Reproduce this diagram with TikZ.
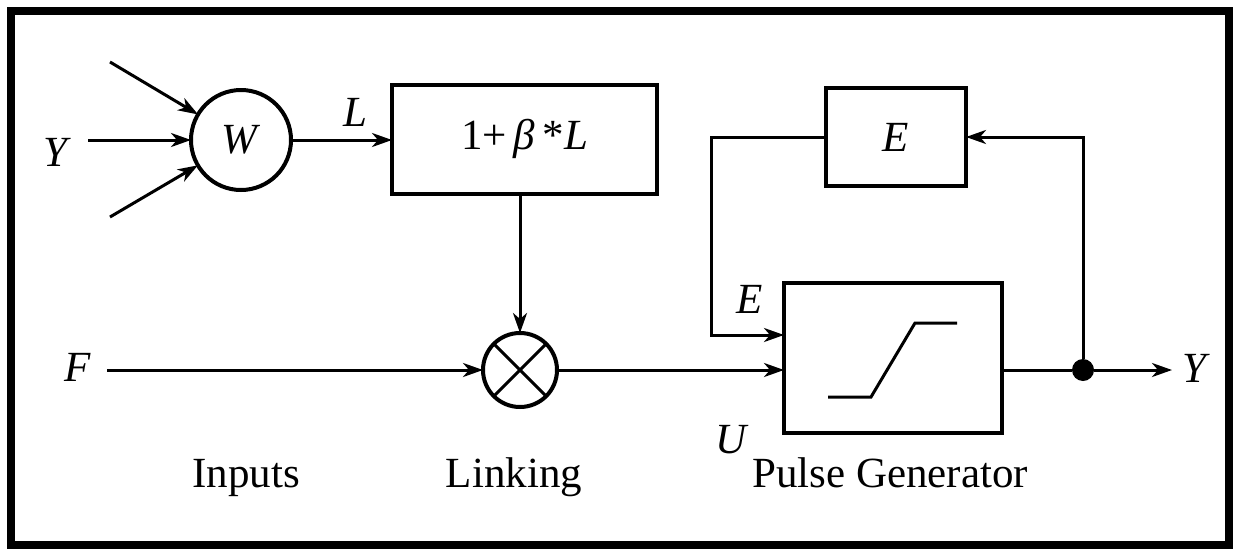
\documentclass[tikz,border=0pt]{standalone}
\usepackage{fontspec}
\setmainfont{Liberation Serif}
\usetikzlibrary{arrows.meta}

\begin{document}
\begin{tikzpicture}[x=1pt, y=-1pt,
  every node/.style={inner sep=0pt, outer sep=0pt, font=\fontsize{43}{50}\selectfont},
  blk/.style={draw, rectangle, line width=4pt},
  sig/.style={line width=3pt, -{Stealth[length=20pt, width=14pt, inset=6pt]}},
  wire/.style={line width=3pt}]
  \useasboundingbox (0,0) rectangle (1234,552);
  \draw[line width=8pt] (11,11) rectangle (1229,545);
  \node[circle, draw, line width=4pt, minimum size=100pt] (w) at (241,140) {\textit{W}};
  \node[blk, minimum width=265pt, minimum height=109pt] (b) at (524.5,139) {1+\,\textit{β}\,*\textit{L}};
  \node[circle, draw, line width=4pt, minimum size=74pt] (m) at (520,370) {};
  \node[blk, minimum width=140pt, minimum height=98pt] (e) at (896,137) {\textit{E}};
  \node[blk, minimum width=218pt, minimum height=150pt] (p) at (893,358) {};
  \node[circle, fill, minimum size=22pt] (d) at (1083,370) {};
  \coordinate (u1) at (110,62);
  \coordinate (u2) at (110,217);
  \coordinate (y0) at (88,140);
  \coordinate (f0) at (107,370);
  \coordinate (k) at (711,335);
  \coordinate (yo) at (1172,370);
  \node (ly) at (57,152) {\textit{Y}};
  \node (ll) at (355,112) {\textit{L}};
  \node (lf) at (78,367) {\textit{F}};
  \node (le) at (750,299) {\textit{E}};
  \node (lu) at (732,440) {\textit{U}};
  \node (lyo) at (1196,368) {\textit{Y}};
  \node[anchor=base] (in) at (246,487) {Inputs};
  \node[anchor=base] (li) at (514,487) {Linking};
  \node[anchor=base] (pg) at (890,487) {Pulse Generator};
  \draw[line width=3pt] (m.45) -- (m.225) (m.135) -- (m.315);
  \draw[wire] ([shift={(-65,39)}]p.center) -- ([shift={(-22,39)}]p.center)
    -- ([shift={(22,-35)}]p.center) -- ([shift={(64,-35)}]p.center);
  \draw[sig] (u1) -- (w);
  \draw[sig] (u2) -- (w);
  \draw[sig] (y0) -- (w);
  \draw[sig] (w.east) -- (w.east -| b.west);
  \draw[sig] (m |- b.south) -- (m);
  \draw[sig] (f0) -- (m);
  \draw[sig] (m) -- (m -| p.west);
  \draw[sig] (e.west) -| (k) -- (k -| p.west);
  \draw[wire] (d -| p.east) -- (d);
  \draw[sig] (d) -- (yo);
  \draw[sig] (d) |- (e.east);
\end{tikzpicture}
\end{document}
